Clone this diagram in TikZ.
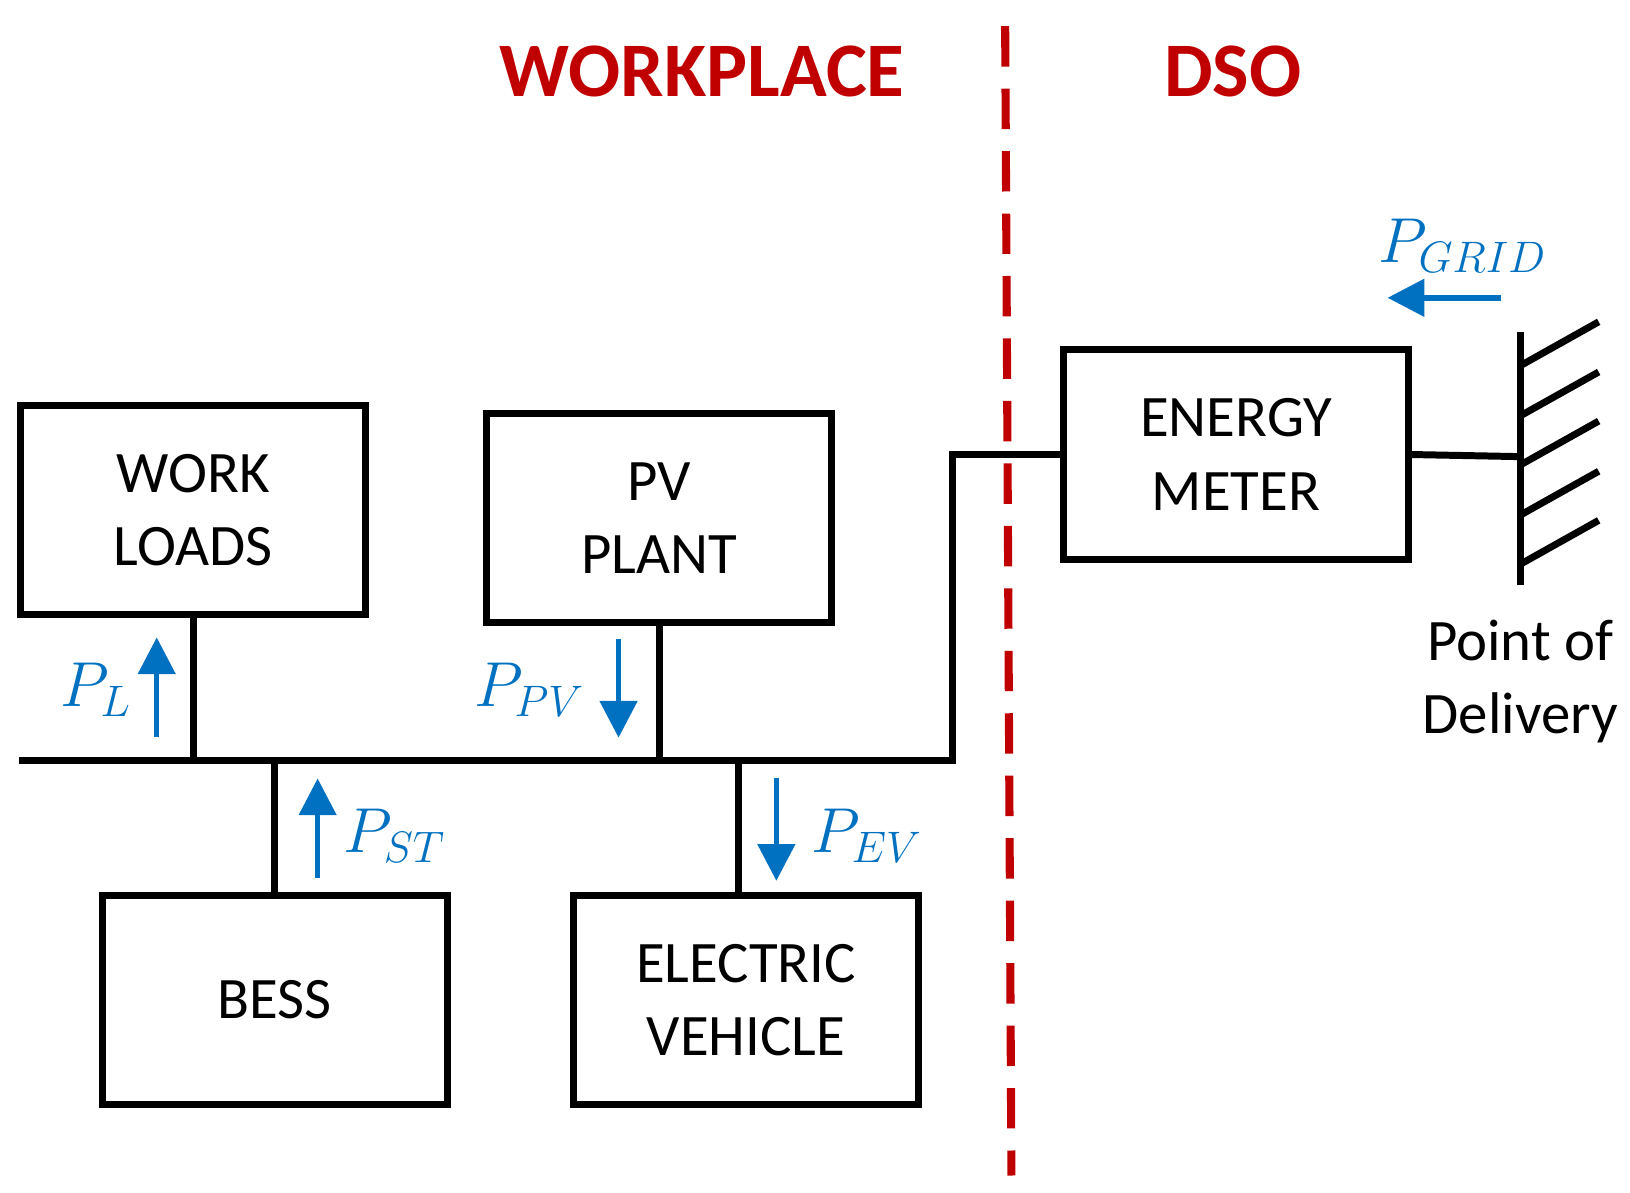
\documentclass[tikz,border=0pt]{standalone}
\usepackage{fontspec}
\setmainfont{Carlito}
\usetikzlibrary{arrows.meta,positioning}
\definecolor{flowblue}{RGB}{0,112,192}
\definecolor{zonered}{RGB}{192,0,0}

\begin{document}
\begin{tikzpicture}[x=0.01cm, y=-0.01cm]
    % Define block styles
    \tikzset{block/.style={rectangle, draw, line width=1.9pt, minimum width=3.3cm, minimum height=2.0cm, align=center, font=\fontsize{16}{20}\selectfont},
             wire/.style={draw, line width=1.9pt},
             flow/.style={draw=flowblue, line width=1.5pt, -{Triangle[length=10pt,width=10pt]}},
             flowlabel/.style={text=flowblue, font=\fontsize{17}{20}\selectfont},
             zone/.style={text=zonered, font=\fontsize{21}{25}\selectfont\bfseries}}
    \useasboundingbox (0,0) rectangle (1560,1141);

    % Nodes
    \node [block] (Work_Loads) at (185,488) {WORK\\LOADS};
    \node [block] (PV_Plant) at (631,496) {PV\\PLANT};
    \node [block] (BESS) at (263,957) {BESS};
    \node [block] (Electric_Vehicle) at (714,957) {ELECTRIC\\VEHICLE};
    \node [block] (Energy_Meter) at (1183,435) {ENERGY\\METER};
    \node [zone] (Workplace) at (672,68) {WORKPLACE};
    \node [zone] (DSO) at (1180,68) {DSO};
    \node [align=center, font=\fontsize{16}{20}\selectfont] (Delivery) at (1455,652) {Point of\\Delivery};

    % Bus and connections
    \coordinate (Bus_Left) at (18,728);
    \coordinate (Bus_Right) at (912,728);
    \coordinate (Ground) at (1455,437);
    \coordinate (EV_Tap) at (707,728);
    \path [wire] (Bus_Left) -- (Bus_Right) |- (Energy_Meter.west);
    \path [wire] (Energy_Meter.east) -- (Ground);
    \path [wire] (Work_Loads.south) -- (Work_Loads.south |- Bus_Left);
    \path [wire] (PV_Plant.south) -- (PV_Plant.south |- Bus_Left);
    \path [wire] (BESS.north) -- (BESS.north |- Bus_Left);
    \path [wire] (Electric_Vehicle.north -| EV_Tap) -- (EV_Tap);

    % Point of delivery
    \path [wire] (1455,318) -- (1455,560);
    \foreach \y in {350,398,445,493,540}
        \path [wire] (1455,\y) -- (1530,\y-42);

    % Boundary
    \draw [zonered, line width=2.2pt, dash pattern=on 11pt off 6pt] (962,25) -- (968,1125);

    % Power flows
    \path [flow] (150,705) -- (150,610);
    \path [flow] (592,612) -- (592,706);
    \path [flow] (304,840) -- (304,745);
    \path [flow] (743,745) -- (743,843);
    \path [flow] (1437,285) -- (1328,285);
    \node [flowlabel] (PL) at (92,660) {$P_{L}$};
    \node [flowlabel] (PPV) at (507,660) {$P_{PV}$};
    \node [flowlabel] (PST) at (378,800) {$P_{ST}$};
    \node [flowlabel] (PEV) at (830,800) {$P_{EV}$};
    \node [flowlabel] (PGRID) at (1400,235) {$P_{GRID}$};
\end{tikzpicture}
\end{document}
